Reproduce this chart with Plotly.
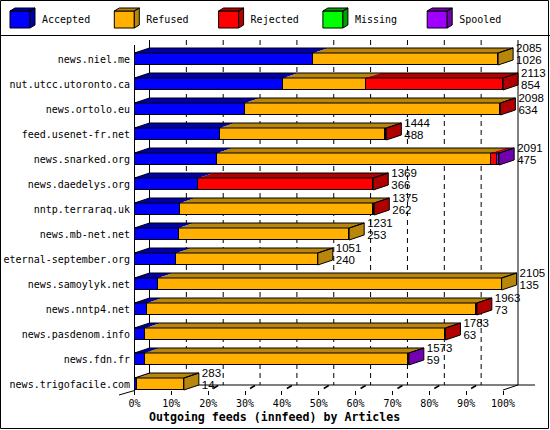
import plotly.graph_objects as go

# ---------------- data ----------------
hosts = ["news.niel.me", "nut.utcc.utoronto.ca", "news.ortolo.eu", "feed.usenet-fr.net",
         "news.snarked.org", "news.daedelys.org", "nntp.terraraq.uk", "news.mb-net.net",
         "eternal-september.org", "news.samoylyk.net", "news.nntp4.net", "news.pasdenom.info",
         "news.fdn.fr", "news.trigofacile.com"]
offered = [2085, 2113, 2098, 1444, 2091, 1369, 1375, 1231, 1051, 2105, 1963, 1783, 1573, 283]
accepted = [1026, 854, 634, 488, 475, 366, 262, 253, 240, 135, 73, 63, 59, 14]
refused = [1059, 471, 1461, 950, 1568, 0, 1108, 978, 811, 1970, 1887, 1717, 1511, 269]
rejected = [0, 788, 3, 6, 36, 1003, 5, 0, 0, 0, 3, 3, 0, 0]
missing = [0, 0, 0, 0, 0, 0, 0, 0, 0, 0, 0, 0, 0, 0]
spooled = [0, 0, 0, 0, 12, 0, 0, 0, 0, 0, 0, 0, 3, 0]
categories = ["Accepted", "Refused", "Rejected", "Missing", "Spooled"]
tick_values = [0, 10, 20, 30, 40, 50, 60, 70, 80, 90, 100]
tick_labels = ["0%", "10%", "20%", "30%", "40%", "50%", "60%", "70%", "80%", "90%", "100%"]
x_title = "Outgoing feeds (innfeed) by Articles"

# ---------------- styles ----------------
front_colors = ["#0000ff", "#ffb000", "#ff0000", "#00ff00", "#a000ff"]
dark_colors = ["#0000a8", "#b8860b", "#b00000", "#00a000", "#7000b0"]
MONO = "DejaVu Sans Mono"
SANS = "Liberation Sans"

W, H = 550, 430
X0PX, XENDPX = 134, 536          # x domain in px
ZERO_PX = 134.5
PX_PER_PCT = 3.685
TOP_PX, BOT_PX = 36, 398         # y domain in px
ROW0_PX, ROW_STEP = 59, 25
AXIS_PX = 390

xr0 = -(ZERO_PX - X0PX) / PX_PER_PCT
xr1 = xr0 + (XENDPX - X0PX) / PX_PER_PCT
yr_top = -(ROW0_PX - TOP_PX) / ROW_STEP
yr_bot = yr_top + (BOT_PX - TOP_PX) / ROW_STEP


def ypx(p):
    return yr_top + (p - TOP_PX) / ROW_STEP


def xpx(p):
    return (p - ZERO_PX) / PX_PER_PCT


def px_x(p):
    return p / W


def px_y(p):
    return 1 - p / H


DX = 15 / PX_PER_PCT
DY = 5 / ROW_STEP
HB = 6 / ROW_STEP

rows = list(range(len(hosts)))
series = [accepted, refused, rejected, missing, spooled]
maxv = max(offered)


def pct(v):
    return v / maxv * 100


fig = go.Figure()

# ---------- front faces (bars) ----------
for i, cat in enumerate(categories):
    fig.add_trace(go.Bar(
        orientation="h", y=rows, x=[pct(v) for v in series[i]], width=2 * HB,
        marker=dict(color=front_colors[i], line=dict(color="black", width=1)),
        name=cat, showlegend=False, hoverinfo="skip"))

# ---------- top / side faces ----------
top_x = [[] for _ in categories]
top_y = [[] for _ in categories]
side_x = [[] for _ in categories]
side_y = [[] for _ in categories]
out_x, out_y = [], []
for r in rows:
    acc = 0.0
    last = 0
    for i in range(len(categories)):
        v = series[i][r]
        if v <= 0:
            continue
        a, b = pct(acc), pct(acc + v)
        acc += v
        last = i
        top_x[i] += [a, b, b + DX, a + DX, a, None]
        top_y[i] += [r - HB, r - HB, r - HB - DY, r - HB - DY, r - HB, None]
    T = pct(acc)
    side_x[last] += [T, T, T + DX, T + DX, T, None]
    side_y[last] += [r - HB, r + HB, r + HB - DY, r - HB - DY, r - HB, None]
    out_x += [0, T, T + DX, DX, 0, None, T, T, T + DX, T + DX, T, None]
    out_y += [r - HB, r - HB, r - HB - DY, r - HB - DY, r - HB, None,
              r - HB, r + HB, r + HB - DY, r - HB - DY, r - HB, None]

for i in range(len(categories)):
    if top_x[i]:
        fig.add_trace(go.Scatter(x=top_x[i], y=top_y[i], mode="lines", fill="toself",
                                 fillcolor=dark_colors[i], line=dict(width=0, color=dark_colors[i]),
                                 showlegend=False, hoverinfo="skip"))
    if side_x[i]:
        fig.add_trace(go.Scatter(x=side_x[i], y=side_y[i], mode="lines", fill="toself",
                                 fillcolor=dark_colors[i], line=dict(width=0, color=dark_colors[i]),
                                 showlegend=False, hoverinfo="skip"))
fig.add_trace(go.Scatter(x=out_x, y=out_y, mode="lines", line=dict(color="black", width=1),
                         showlegend=False, hoverinfo="skip"))

# ---------- value labels ----------
lab_x = [pct(o) + DX + xpx(ZERO_PX + 3) for o in offered]
fig.add_trace(go.Scatter(x=lab_x, y=[r - 0.38 for r in rows], mode="text",
                         text=[str(v) for v in offered], textposition="middle right",
                         textfont=dict(family=SANS, size=11.5, color="black"),
                         cliponaxis=False, showlegend=False, hoverinfo="skip"))
fig.add_trace(go.Scatter(x=lab_x, y=[r + 0.10 for r in rows], mode="text",
                         text=[str(v) for v in accepted], textposition="middle right",
                         textfont=dict(family=SANS, size=11.5, color="black"),
                         cliponaxis=False, showlegend=False, hoverinfo="skip"))

# ---------- legend (own axes) ----------
LSTEP = 104.3
for i, cat in enumerate(categories):
    x0 = 10 + i * LSTEP
    x1 = x0 + 20
    fig.add_trace(go.Scatter(x=[x0, x1, x1, x0, x0], y=[11, 11, 28, 28, 11], mode="lines",
                             fill="toself", fillcolor=front_colors[i],
                             line=dict(color="black", width=1), xaxis="x2", yaxis="y2",
                             showlegend=False, hoverinfo="skip"))
    fig.add_trace(go.Scatter(x=[x0, x1, x1 + 5, x0 + 5, x0, None, x1, x1, x1 + 5, x1 + 5, x1],
                             y=[11, 11, 8, 8, 11, None, 11, 28, 25, 8, 11], mode="lines",
                             fill="toself", fillcolor=dark_colors[i],
                             line=dict(color="black", width=1), xaxis="x2", yaxis="y2",
                             showlegend=False, hoverinfo="skip"))
fig.add_trace(go.Scatter(x=[42 + i * LSTEP for i in range(len(categories))],
                         y=[20] * len(categories), mode="text", text=categories,
                         textposition="middle right",
                         textfont=dict(family=MONO, size=10, color="black"),
                         xaxis="x2", yaxis="y2", cliponaxis=False,
                         showlegend=False, hoverinfo="skip"))

# ---------- structural lines (shapes) ----------
shapes = []
grid_top, floor_back, floor_front = ypx(40), ypx(385), ypx(AXIS_PX)
for g in tick_values[1:-1]:
    shapes.append(dict(type="line", xref="x", yref="y", x0=g + DX, x1=g + DX,
                       y0=grid_top, y1=floor_back, layer="below",
                       line=dict(color="black", width=1, dash="5px,4px")))
for g in (tick_values[0], tick_values[-1]):
    shapes.append(dict(type="line", xref="x", yref="y", x0=g + DX, x1=g + DX,
                       y0=grid_top, y1=floor_back, layer="below",
                       line=dict(color="black", width=1)))
# small depth stubs next to each tick on the floor
for g in tick_values[1:-1]:
    shapes.append(dict(type="line", xref="x", yref="y",
                       x0=g + 5 / PX_PER_PCT, x1=g + 10 / PX_PER_PCT,
                       y0=ypx(388.5), y1=ypx(385.5), layer="below",
                       line=dict(color="black", width=1.5)))
shapes.append(dict(type="line", xref="x", yref="y", x0=DX, x1=xpx(535),
                   y0=floor_back, y1=floor_back, layer="below",
                   line=dict(color="black", width=1)))
shapes.append(dict(type="line", xref="x", yref="y", x0=100, x1=100 + DX,
                   y0=floor_front, y1=floor_back, layer="below",
                   line=dict(color="black", width=1)))
shapes.append(dict(type="line", xref="x", yref="y", x0=0, x1=0,
                   y0=ypx(45), y1=ypx(393), layer="below",
                   line=dict(color="black", width=1)))
shapes.append(dict(type="line", xref="paper", yref="paper", x0=px_x(119), x1=px_x(134.5),
                   y0=px_y(395), y1=px_y(390.5), line=dict(color="black", width=1)))
# frame and legend separator
shapes.append(dict(type="rect", xref="paper", yref="paper", x0=px_x(0.5), x1=px_x(548.5),
                   y0=px_y(428.5), y1=px_y(0.5), line=dict(color="black", width=1)))
shapes.append(dict(type="line", xref="paper", yref="paper", x0=0, x1=1,
                   y0=px_y(35.5), y1=px_y(35.5), line=dict(color="black", width=1)))

fig.update_layout(
    width=W, height=H, margin=dict(l=0, r=0, t=0, b=0, pad=0, autoexpand=False),
    paper_bgcolor="white", plot_bgcolor="white", barmode="stack", bargap=0,
    showlegend=False, shapes=shapes,
    xaxis=dict(domain=[px_x(X0PX), px_x(XENDPX)], range=[xr0, xr1], anchor="free",
               position=px_y(AXIS_PX), tickvals=tick_values, ticktext=tick_labels,
               ticks="outside", ticklen=4, tickcolor="black", tickwidth=1,
               showgrid=False, zeroline=False, showline=False, automargin=False,
               tickfont=dict(family=MONO, size=10, color="black")),
    yaxis=dict(domain=[px_y(BOT_PX), px_y(TOP_PX)], range=[yr_bot, yr_top],
               tickvals=rows, ticktext=hosts, ticks="", showgrid=False, zeroline=False,
               showline=False, ticklabelstandoff=3, automargin=False,
               tickfont=dict(family=MONO, size=10, color="black")),
    xaxis2=dict(domain=[0, 1], range=[0, W], visible=False, anchor="y2", automargin=False),
    yaxis2=dict(domain=[px_y(35), 1], range=[35, 0], visible=False, anchor="x2",
                automargin=False),
    annotations=[dict(text="<b>" + x_title + "</b>", xref="paper", yref="paper",
                      x=px_x(274), y=px_y(417), showarrow=False, xanchor="center",
                      yanchor="middle", font=dict(family=MONO, size=11.6, color="black"))],
)

fig.write_html("out.html", config={"displayModeBar": False},
               post_script="document.body.style.margin='0';"
                           "document.body.style.overflow='hidden';")
